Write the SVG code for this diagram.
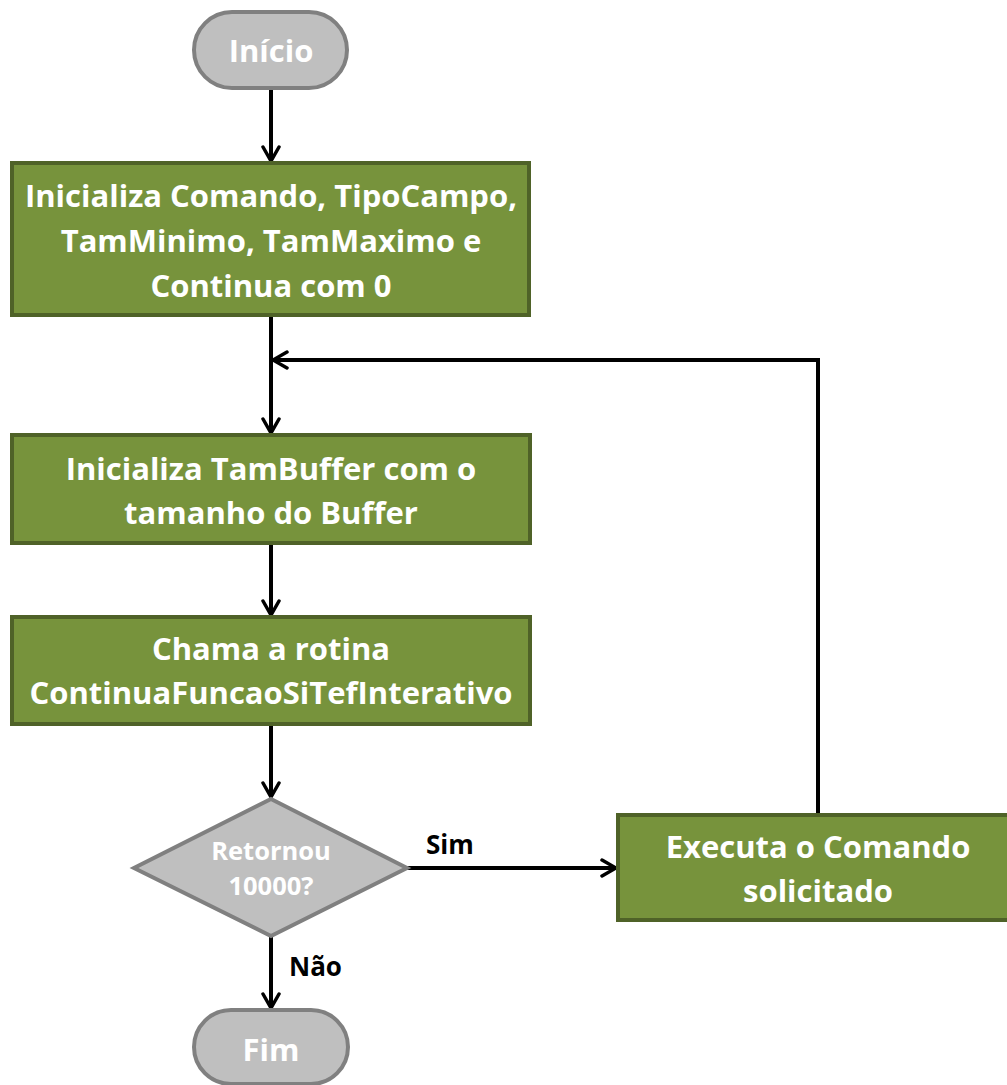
<svg xmlns="http://www.w3.org/2000/svg" width="1007" height="1085" viewBox="0 0 1007 1085">
<defs>
<style>
.term{fill:#bfbfbf;stroke:#808080;stroke-width:4}
.proc{fill:#77933c;stroke:#4f6228;stroke-width:4}
.dec{fill:#bfbfbf;stroke:#808080;stroke-width:4}
.t{font-family:"Open Sans","Liberation Sans",sans-serif;font-weight:bold;fill:#ffffff;text-anchor:middle}
.big{font-size:31px}
.mid{font-size:25.5px}
.lbl{font-family:"Open Sans","Liberation Sans",sans-serif;font-weight:bold;font-size:26px;fill:#000000}
.c{fill:none;stroke:#000000;stroke-width:4}
</style>
<marker id="arr" viewBox="0 0 20 20" refX="18" refY="10" markerWidth="20" markerHeight="20" markerUnits="userSpaceOnUse" orient="auto">
<path d="M4,2 L18,10 L4,18" fill="none" stroke="#000" stroke-width="3.5" stroke-linecap="round" stroke-linejoin="miter"/>
</marker>
</defs>
<rect width="1007" height="1085" fill="#ffffff"/>
<g id="connectors">
<line class="c" x1="271" y1="90" x2="271" y2="161" marker-end="url(#arr)"/>
<line class="c" x1="271" y1="317" x2="271" y2="433" marker-end="url(#arr)"/>
<polyline class="c" points="818,813 818,360 273,360" marker-end="url(#arr)"/>
<line class="c" x1="271" y1="545" x2="271" y2="615" marker-end="url(#arr)"/>
<line class="c" x1="271" y1="726" x2="271" y2="797" marker-end="url(#arr)"/>
<line class="c" x1="407" y1="868" x2="616" y2="868" marker-end="url(#arr)"/>
<line class="c" x1="271" y1="937" x2="271" y2="1008" marker-end="url(#arr)"/>
<text class="lbl" x="426" y="854">Sim</text>
<text class="lbl" x="289" y="976">Não</text>
</g>
<g id="inicio">
<rect class="term" x="194" y="12" width="153" height="76" rx="38" ry="38"/>
<text class="t big" x="271" y="62">Início</text>
</g>
<g id="init1">
<rect class="proc" x="12" y="163" width="517" height="152"/>
<text class="t big" x="271" y="207">Inicializa Comando, TipoCampo,</text>
<text class="t big" x="271" y="252">TamMinimo, TamMaximo e</text>
<text class="t big" x="271" y="297">Continua com 0</text>
</g>
<g id="init2">
<rect class="proc" x="12" y="435" width="518" height="108"/>
<text class="t big" x="271" y="480">Inicializa TamBuffer com o</text>
<text class="t big" x="271" y="524">tamanho do Buffer</text>
</g>
<g id="chama">
<rect class="proc" x="12" y="617" width="518" height="107"/>
<text class="t big" x="271" y="660">Chama a rotina</text>
<text class="t big" x="271" y="704">ContinuaFuncaoSiTefInterativo</text>
</g>
<g id="decisao">
<polygon class="dec" points="271,799 407,868 271,936 134,868"/>
<text class="t mid" x="271" y="860">Retornou</text>
<text class="t mid" x="271" y="895">10000?</text>
</g>
<g id="executa">
<rect class="proc" x="618" y="815" width="400" height="105"/>
<text class="t big" x="818" y="858">Executa o Comando</text>
<text class="t big" x="818" y="902">solicitado</text>
</g>
<g id="fim">
<rect class="term" x="194" y="1010" width="154" height="74" rx="37" ry="37"/>
<text class="t big" x="271" y="1061">Fim</text>
</g>
</svg>
